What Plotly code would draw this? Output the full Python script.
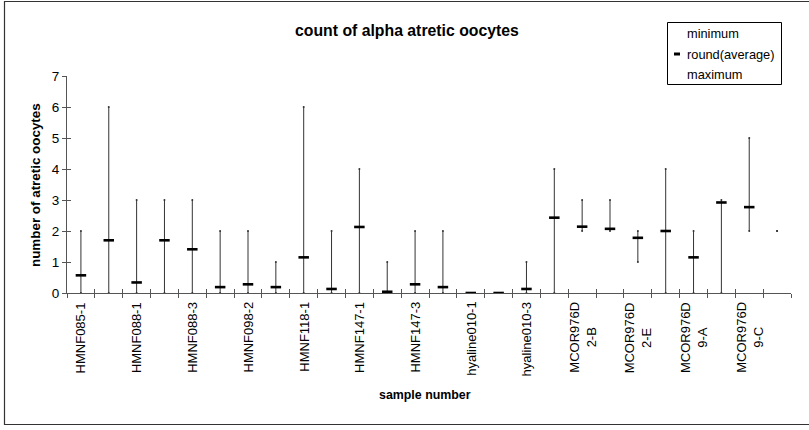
import plotly.graph_objects as go

# Samples: 26 categories, every second one carries a tick label
n_samples = 26
sample_labels = [
    "HMNF085-1", "HMNF088-1", "HMNF088-3", "HMNF098-2", "HMNF118-1",
    "HMNF147-1", "HMNF147-3", "hyaline010-1", "hyaline010-3",
    "MCOR976D<br>2-B", "MCOR976D<br>2-E", "MCOR976D<br>9-A", "MCOR976D<br>9-C",
]
label_positions = list(range(0, n_samples, 2))

minimum = [0, 0, 0, 0, 0, 0, 0, 0, 0, 0, 0, 0, 0,
           0, 0, 0, 0, 0, 2, 2, 1, 0, 0, 0, 2, 2]
maximum = [2, 6, 3, 3, 3, 2, 2, 1, 6, 2, 4, 1, 2,
           2, 0, 0, 1, 4, 3, 3, 2, 4, 2, 3, 5, 2]
round_average = [0.57, 1.70, 0.34, 1.70, 1.41, 0.19, 0.28, 0.19, 1.15, 0.13,
                 2.13, 0.04, 0.28, 0.19, 0.0, 0.0, 0.13, 2.43, 2.14, 2.07,
                 1.78, 2.0, 1.15, 2.92, 2.77, None]

y_ticks = list(range(0, 8))

W, H = 809, 430
ML, MR, MT, MB = 67, 18, 76, 137
PW, PH = W - ML - MR, H - MT - MB
FONT = "Liberation Sans"
LINE = "#333333"
AXIS = "#555555"


def px(x):
    return (x - ML) / PW


def py(y):
    return (H - MB - y) / PH


xs = list(range(n_samples))

# high-low lines from minimum to maximum
hl_x, hl_y = [], []
for i, (lo, hi) in enumerate(zip(minimum, maximum)):
    hl_x += [i, i, None]
    hl_y += [lo, hi, None]

fig = go.Figure()
fig.add_trace(go.Scatter(
    x=hl_x, y=hl_y, mode="lines+markers",
    line=dict(color=LINE, width=1),
    marker=dict(size=2, color=LINE),
    showlegend=False, hoverinfo="skip",
))
fig.add_trace(go.Scatter(
    x=xs, y=round_average, mode="markers", name="round(average)",
    marker=dict(symbol="line-ew", size=7.5, line=dict(color="black", width=2.6)),
    showlegend=False,
))
# companion axes that carry the inward half of the crossing tick marks
fig.add_trace(go.Scatter(x=[0], y=[0], xaxis="x2", yaxis="y2", mode="markers",
                         marker=dict(opacity=0), showlegend=False, hoverinfo="skip"))

boundaries = [i - 0.5 for i in range(n_samples + 1)]

fig.update_layout(
    width=W, height=H,
    margin=dict(l=ML, r=MR, t=MT, b=MB),
    paper_bgcolor="white", plot_bgcolor="white",
    font=dict(family=FONT, size=13, color="black"),
    xaxis=dict(
        range=[-0.5, n_samples - 0.5], showgrid=False, zeroline=False,
        showline=True, linecolor=AXIS, linewidth=1,
        tickmode="array", tickvals=boundaries, ticks="outside",
        ticklen=4, tickcolor=AXIS, tickwidth=1, showticklabels=False,
    ),
    yaxis=dict(
        range=[0, 7], showgrid=False, zeroline=False,
        showline=True, linecolor=AXIS, linewidth=1,
        tickmode="array", tickvals=y_ticks,
        ticks="outside", ticklen=4, tickcolor=AXIS, tickwidth=1,
        tickfont=dict(family=FONT, size=13.5),
    ),
    xaxis2=dict(
        overlaying="x", matches="x", anchor="y2", side="bottom",
        showgrid=False, zeroline=False, showline=False, showticklabels=False,
        tickmode="array", tickvals=boundaries, ticks="inside", ticklen=4,
        tickcolor=AXIS, tickwidth=1,
    ),
    yaxis2=dict(
        overlaying="y", matches="y", anchor="x2", side="left",
        showgrid=False, zeroline=False, showline=False, showticklabels=False,
        tickmode="array", tickvals=y_ticks, ticks="inside", ticklen=4,
        tickcolor=AXIS, tickwidth=1,
    ),
    showlegend=False,
)

# category labels, rotated and centred under every second sample
for pos, label in zip(label_positions, sample_labels):
    fig.add_annotation(text=label, xref="x", yref="paper", x=pos, y=py(300),
                       showarrow=False, textangle=-90, align="center",
                       xanchor="center", yanchor="top",
                       font=dict(family=FONT, size=13))

# chart title and axis titles
fig.add_annotation(text="<b>count of alpha atretic oocytes</b>", xref="paper", yref="paper",
                   x=px(407), y=py(30.5), showarrow=False, font=dict(family=FONT, size=15.8),
                   xanchor="center", yanchor="middle")
fig.add_annotation(text="<b>sample number</b>", xref="paper", yref="paper",
                   x=px(424.5), y=py(395), showarrow=False, font=dict(family=FONT, size=12.4),
                   xanchor="center", yanchor="middle")
fig.add_annotation(text="<b>number of atretic oocytes</b>", xref="paper", yref="paper",
                   x=px(35), y=py(185), showarrow=False, textangle=-90,
                   font=dict(family=FONT, size=13.4), xanchor="center", yanchor="middle")

# legend box
legend_entries = ["minimum", "round(average)", "maximum"]
legend_rows = [34, 54, 74]
fig.add_shape(type="rect", xref="paper", yref="paper",
              x0=px(667.5), x1=px(781.5), y0=py(84.5), y1=py(22.5),
              line=dict(color="black", width=1), fillcolor="white", layer="above")
for label, row in zip(legend_entries, legend_rows):
    fig.add_annotation(text=label, xref="paper", yref="paper", x=px(684.5), y=py(row),
                       showarrow=False, xanchor="left", yanchor="middle",
                       font=dict(family=FONT, size=12.8))
fig.add_shape(type="line", xref="paper", yref="paper",
              x0=px(674), x1=px(680), y0=py(54), y1=py(54),
              line=dict(color="black", width=3), layer="above")

# chart area border
fig.add_shape(type="rect", xref="paper", yref="paper",
              x0=px(4.5), x1=px(815), y0=py(424.5), y1=py(1.5),
              line=dict(color="#333333", width=1.2), layer="below")

fig.write_html("out.html")
